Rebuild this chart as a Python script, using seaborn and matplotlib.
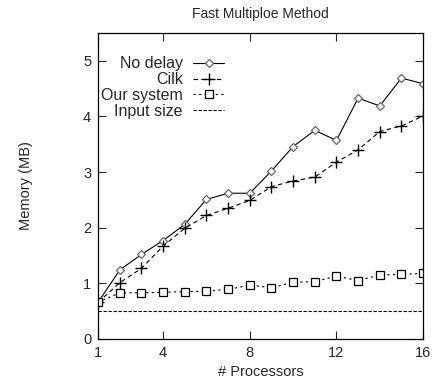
import numpy as np
import pandas as pd
import matplotlib
matplotlib.use('Agg')
import matplotlib.pyplot as plt
import seaborn as sns

# Valores
procesadores = list(range(1, 17))
no_delay = [0.66, 1.24, 1.52, 1.77, 2.06, 2.51, 2.62, 2.62, 3.02, 3.46, 3.75, 3.57, 4.33, 4.19, 4.69, 4.59]
cilk = [0.66, 1.01, 1.27, 1.67, 1.99, 2.22, 2.35, 2.49, 2.74, 2.84, 2.91, 3.18, 3.40, 3.73, 3.83, 4.01]
our_system = [0.66, 0.83, 0.83, 0.84, 0.85, 0.86, 0.89, 0.97, 0.92, 1.02, 1.03, 1.13, 1.05, 1.15, 1.16, 1.18]
input_size = [0.51] * 16

x_ticks = [1, 4, 8, 12, 16]
y_ticks = [0, 1, 2, 3, 4, 5]

sns.set_style('ticks')
plt.rcParams['font.family'] = ['Liberation Sans', 'DejaVu Sans']

fig = plt.figure(figsize=(4.38, 3.8), dpi=100)
ax = fig.add_axes([0.224, 0.108, 0.742, 0.805])

sns.lineplot(x=procesadores, y=no_delay, ax=ax, color='black', lw=0.8, linestyle='-',
             marker='D', markersize=4.5, markerfacecolor='white', markeredgecolor='#666666',
             markeredgewidth=0.9, label='No delay')
sns.lineplot(x=procesadores, y=cilk, ax=ax, color='black', lw=0.8, linestyle=(0, (4, 3)),
             marker='+', markersize=8, markeredgecolor='black', markeredgewidth=1.0, label='Cilk')
sns.lineplot(x=procesadores, y=our_system, ax=ax, color='black', lw=0.8, linestyle=(0, (2, 3)),
             marker='s', markersize=5.5, markerfacecolor='white', markeredgecolor='black',
             markeredgewidth=0.9, label='Our system')
sns.lineplot(x=procesadores, y=input_size, ax=ax, color='black', lw=0.8, linestyle=(0, (3, 1.5)),
             label='Input size')

ax.set_xlim(1, 16)
ax.set_ylim(0, 5.5)
ax.set_xticks(x_ticks)
ax.set_yticks(y_ticks)
ax.tick_params(direction='in', length=6, width=0.8, top=True, right=True,
               labelsize=10.5, pad=5)
for s in ax.spines.values():
    s.set_visible(True)
    s.set_linewidth(0.9)
    s.set_color('black')

ax.set_xlabel('# Processors', fontsize=10.5, labelpad=4)
ax.set_ylabel('Memory (MB)', fontsize=10.5, labelpad=36)
ax.set_title('Fast Multiploe Method', fontsize=10, pad=11)

leg = ax.legend(loc='upper left', bbox_to_anchor=(-0.02, 0.955), frameon=False,
                markerfirst=False, fontsize=11.5, handlelength=2.0, handletextpad=0.6,
                labelspacing=0.05, borderaxespad=0.2)

fig.savefig('out.png', dpi=100)
